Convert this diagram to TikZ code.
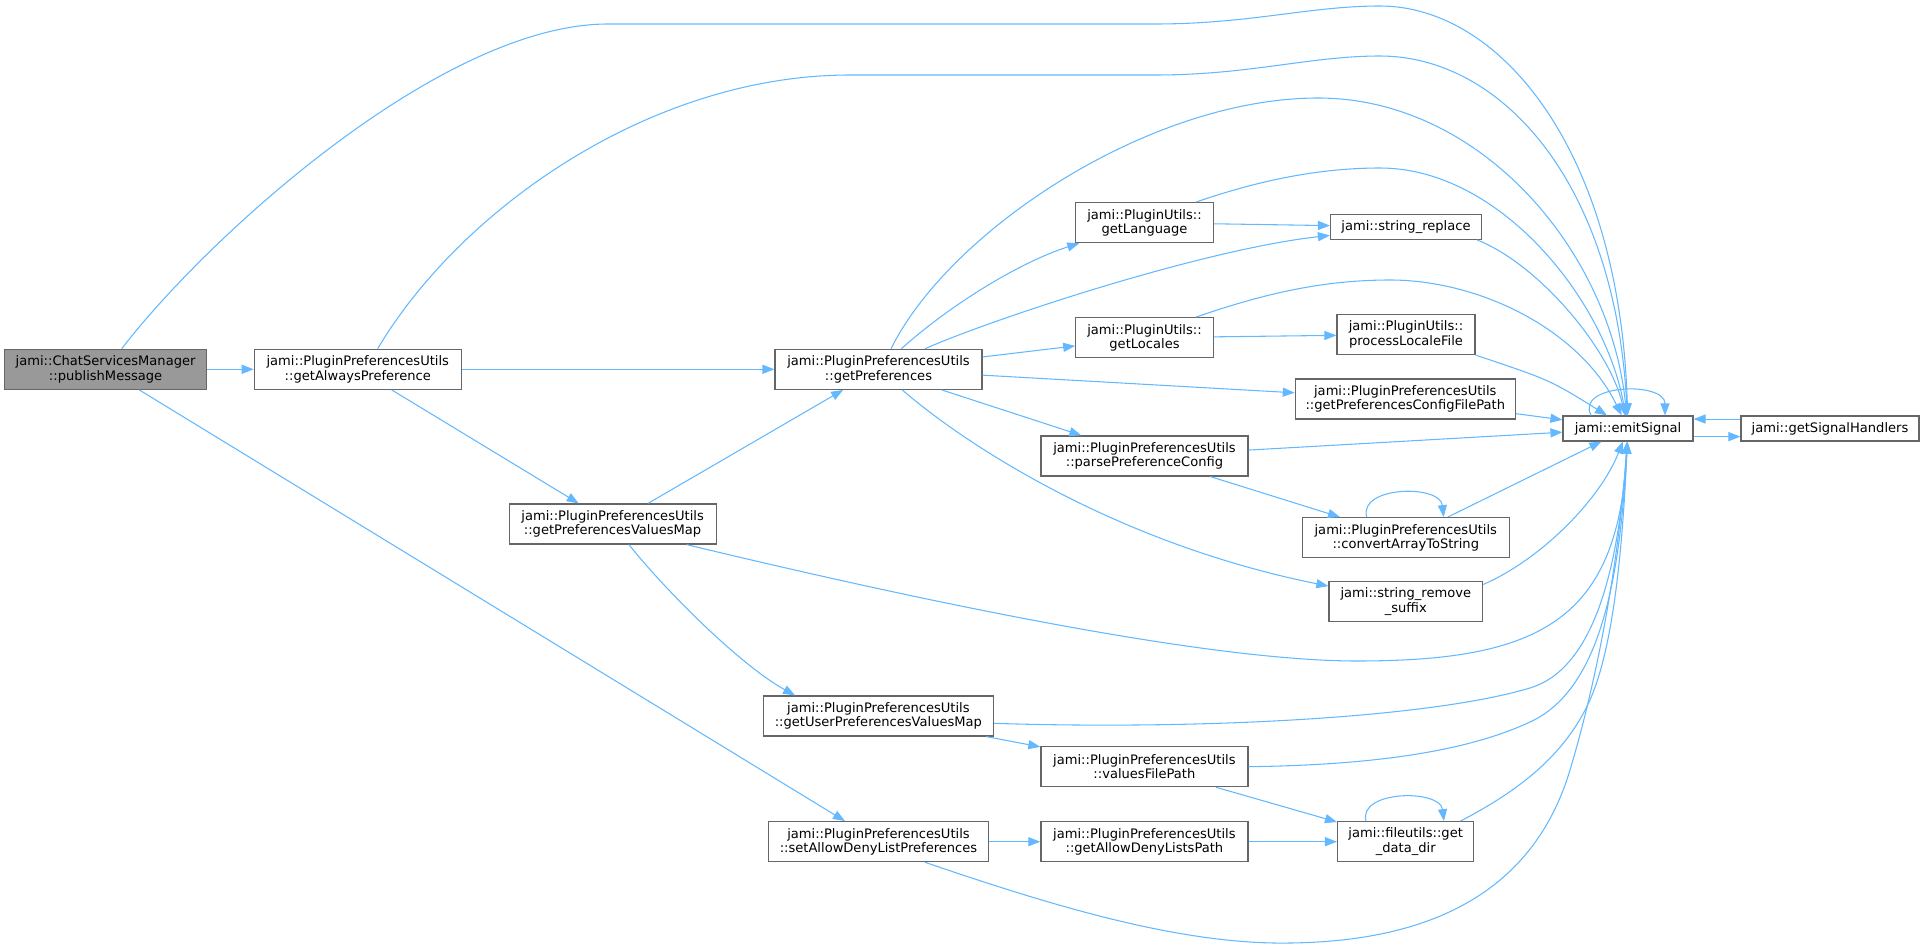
\documentclass[tikz,border=0pt]{standalone}
\usepackage{fontspec}
\setmainfont{DejaVu Sans}
\usepackage{tikz}
\usetikzlibrary{arrows.meta}
\definecolor{edgeblue}{HTML}{63B8FF}
\definecolor{boxline}{HTML}{666666}
\definecolor{rootfill}{HTML}{999999}
\tikzstyle{func} = [rectangle, draw=boxline, line width=0.9pt, fill=white, align=center, inner sep=0pt, minimum height=30pt, font=\fontsize{9.8}{10.9}\selectfont]
\tikzstyle{root} = [func, fill=rootfill]
\tikzstyle{call} = [draw=edgeblue, line width=0.8pt, -{Triangle[length=9pt,width=6.8pt]}]

\begin{document}
\begin{tikzpicture}[x=0.75pt, y=-0.75pt]
    \useasboundingbox (0,0) rectangle (1925,949);
    \node[root, minimum width=151.5pt](publish) at (105.6,369.3){jami::ChatServicesManager\\::publishMessage};
    \node[func, minimum width=155.25pt](always) at (357.8,369.3){jami::PluginPreferencesUtils\\::getAlwaysPreference};
    \node[func, minimum width=155.25pt](prefs) at (878.5,369.3){jami::PluginPreferencesUtils\\::getPreferences};
    \node[func, minimum width=155.25pt](valmap) at (612.6,524){jami::PluginPreferencesUtils\\::getPreferencesValuesMap};
    \node[func, minimum width=172.5pt](usermap) at (878.4,716){jami::PluginPreferencesUtils\\::getUserPreferencesValuesMap};
    \node[func, minimum width=165pt](setallow) at (878.5,841.7){jami::PluginPreferencesUtils\\::setAllowDenyListPreferences};
    \node[func, minimum width=103.1pt](language) at (1144.5,222.7){jami::PluginUtils::\\getLanguage};
    \node[func, minimum width=113.25pt, minimum height=18.75pt](replace) at (1406,226.8){jami::string\_replace};
    \node[func, minimum width=103.1pt](locales) at (1144.5,337.7){jami::PluginUtils::\\getLocales};
    \node[func, minimum width=103.5pt](localefile) at (1406,334.5){jami::PluginUtils::\\processLocaleFile};
    \node[func, minimum width=165pt](configpath) at (1405.3,399){jami::PluginPreferencesUtils\\::getPreferencesConfigFilePath};
    \node[func, minimum width=155.25pt](parse) at (1144.5,456){jami::PluginPreferencesUtils\\::parsePreferenceConfig};
    \node[func, minimum width=155.25pt](convert) at (1405.8,537.7){jami::PluginPreferencesUtils\\::convertArrayToString};
    \node[func, minimum width=115.3pt](suffix) at (1405.8,601.7){jami::string\_remove\\\_suffix};
    \node[func, minimum width=155.25pt](valpath) at (1144.4,766.7){jami::PluginPreferencesUtils\\::valuesFilePath};
    \node[func, minimum width=155.25pt](denypath) at (1144.4,841.7){jami::PluginPreferencesUtils\\::getAllowDenyListsPath};
    \node[func, minimum width=102.2pt](datadir) at (1405.7,841.7){jami::fileutils::get\\\_data\_dir};
    \node[func, minimum width=97.5pt, minimum height=18.75pt](emit) at (1628,428.5){jami::emitSignal};
    \node[func, minimum width=133.5pt, minimum height=18.75pt](handlers) at (1830,428.5){jami::getSignalHandlers};

    % publishMessage
    \path[call](publish) -- (always);
    \path[call](publish) -- (setallow);
    \path[call]([xshift=12.1pt]publish.north) .. controls (205,240) and (440,24) .. (608,24) -- (1155,24) .. controls (1250,24) and (1310,6) .. (1380,6) .. controls (1500,6) and (1620,150) .. (emit);
    % getAlwaysPreference
    \path[call](always) -- (prefs);
    \path[call](always) -- (valmap);
    \path[call]([xshift=14.9pt]always.north) .. controls (460,210) and (650,75) .. (850,75) -- (1155,75) .. controls (1250,75) and (1310,56) .. (1380,56) .. controls (1500,56) and (1615,180) .. (emit);
    % getPreferencesValuesMap
    \path[call](valmap) -- (prefs);
    \path[call](valmap) .. controls (665,590) and (740,665) .. ([xshift=-62.5pt]usermap.north);
    \path[call]([xshift=55.5pt]valmap.south) .. controls (900,596) and (1200,661) .. (1357,661) .. controls (1540,661) and (1618,620) .. (emit);
    % getPreferences
    \path[call]([xshift=9.4pt]prefs.north) .. controls (950,230) and (1150,98) .. (1318,98) .. controls (1480,98) and (1610,250) .. (emit);
    \path[call](prefs) .. controls (950,305) and (1020,262) .. (language);
    \path[call](prefs) .. controls (990,320) and (1200,250) .. (replace);
    \path[call](prefs) -- (locales);
    \path[call](prefs) -- (configpath);
    \path[call](prefs) -- (parse);
    \path[call](prefs) .. controls (960,440) and (1110,542) .. (suffix);
    % plugin utils
    \path[call](language) -- (replace);
    \path[call]([xshift=38.6pt]language.north) .. controls (1260,180) and (1320,168) .. (1380,168) .. controls (1500,168) and (1605,300) .. (emit);
    \path[call]([xshift=-3.75pt]replace.south east) .. controls (1540,265) and (1610,350) .. (emit);
    \path[call](locales) -- (localefile);
    \path[call]([xshift=38.6pt]locales.north) .. controls (1260,295) and (1320,280) .. (1390,280) .. controls (1480,280) and (1580,330) .. (emit);
    \path[call](localefile.south east) .. controls (1550,380) .. (emit);
    \path[call](configpath) -- (emit);
    \path[call](parse) -- (emit);
    \path[call](parse) -- (convert);
    \path[call](convert) -- (emit);
    \path[call]([xshift=-29.3pt]convert.north) .. controls (1358,486) and (1440,484) .. ([xshift=28.4pt]convert.north);
    \path[call]([yshift=-2.5pt]suffix.north east) .. controls (1540,560) and (1600,500) .. (emit);
    % emitSignal
    \path[call]([xshift=-27.75pt]emit.north) .. controls (1575,384) and (1665,381) .. ([xshift=27.75pt]emit.north);
    \path[call]([yshift=-6.1pt]emit.east) -- ([yshift=-6.1pt]handlers.west);
    \path[call]([yshift=7.1pt]handlers.west) -- ([yshift=7.1pt]emit.east);
    % user values and paths
    \path[call]([yshift=-5.5pt]usermap.east) .. controls (1200,730) and (1430,718) .. (1530,688) .. controls (1590,670) and (1618,580) .. (emit);
    \path[call](usermap) -- (valpath);
    \path[call](valpath.east) .. controls (1380,765) and (1470,750) .. (1530,722) .. controls (1600,690) and (1620,580) .. (emit);
    \path[call](valpath) -- (datadir);
    \path[call](setallow) -- (denypath);
    \path[call]([xshift=34.9pt]setallow.south) .. controls (1050,905) and (1180,945) .. (1290,943) .. controls (1460,941) and (1540,870) .. (1570,770) .. controls (1600,670) and (1620,550) .. (emit);
    \path[call](denypath) -- (datadir);
    \path[call]([xshift=-10.5pt]datadir.north east) .. controls (1520,790) and (1565,755) .. (1590,700) .. controls (1612,650) and (1622,560) .. (emit);
    \path[call]([xshift=-29.8pt]datadir.north) .. controls (1358,790) and (1440,789) .. ([xshift=28.7pt]datadir.north);
\end{tikzpicture}
\end{document}
